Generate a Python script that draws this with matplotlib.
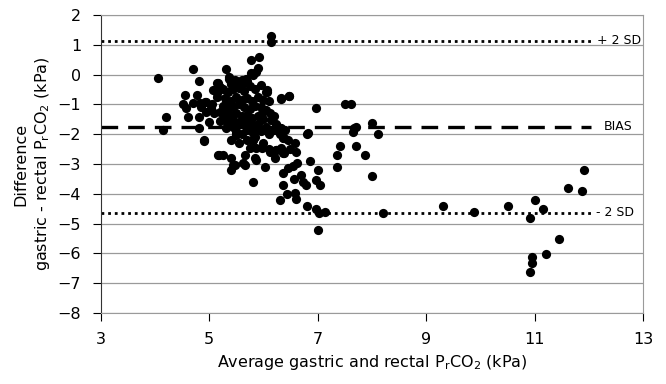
import matplotlib
matplotlib.use('Agg')
import matplotlib.pyplot as plt

# average of gastric and rectal PrCO2 (kPa) and their difference (kPa)
avg = [4.05, 4.71, 4.81, 5.31, 5.36, 4.55, 4.77, 4.52, 4.57, 4.71,
       4.83, 4.95, 5.04, 4.20, 4.15, 4.61, 4.81, 4.81, 4.91, 5.17,
       5.26, 5.41, 5.44, 5.41, 5.07, 5.17, 5.20, 5.29, 5.32, 5.50,
       6.15, 6.15, 5.78, 5.92, 5.86, 5.81, 5.66, 5.47, 6.07, 6.32,
       6.47, 6.97, 7.51, 7.61, 6.80, 7.68, 7.65, 7.41, 7.36, 7.71,
       7.36, 7.87, 6.36, 5.81, 5.97, 6.10, 6.24, 6.33, 6.21, 6.39,
       6.03, 5.87, 5.75, 5.66, 5.66, 5.47, 5.81, 6.36, 6.45, 6.55,
       6.63, 6.87, 6.69, 6.74, 6.79, 6.56, 6.97, 7.01, 7.05, 6.36,
       6.43, 6.31, 6.58, 6.61, 6.81, 6.97, 7.03, 7.13, 7.01, 8.01,
       8.11, 7.71, 8.01, 8.21, 9.31, 9.89, 10.51, 10.91, 11.01, 11.16,
       11.46, 11.21, 10.96, 10.96, 10.91, 11.61, 11.87, 11.91, 5.37, 5.41,
       5.15, 5.21, 5.14, 5.50, 5.60, 5.69, 5.78, 5.90, 4.92, 5.32,
       5.04, 5.29, 4.90, 5.63, 5.78, 5.81, 5.18, 5.63, 5.84, 5.87,
       6.06, 6.33, 6.47, 5.97, 6.15, 6.24, 6.33, 6.00, 5.84, 5.81,
       6.39, 6.58, 6.82, 6.12, 6.24, 6.36,
       5.25, 5.35, 5.45, 5.55, 5.65, 5.75, 5.85, 5.95,
       5.30, 5.40, 5.50, 5.60, 5.70, 5.80, 5.90, 6.00, 6.10,
       5.25, 5.35, 5.45, 5.55, 5.65, 5.75, 5.85, 5.95, 6.05,
       5.30, 5.40, 5.50, 5.60, 5.70, 5.80, 5.90, 6.00,
       5.35, 5.45, 5.55, 5.65, 5.75, 5.90, 6.05,
       5.50, 5.60, 5.70, 5.95, 6.10, 6.20,
       5.50, 5.60, 5.40, 5.70, 6.05, 5.15, 5.05, 5.10, 5.20, 5.40,
       5.55, 5.70, 5.85, 6.00, 6.30, 6.45, 6.50, 6.60,
       6.12, 6.20, 6.24, 6.30, 6.40, 5.44, 5.50, 4.85, 4.95, 5.00]
diff = [-0.12, 0.18, -0.21, 0.18, -0.07, -0.68, -0.68, -1.00, -1.13, -0.96,
        -0.94, -0.91, -1.13, -1.41, -1.86, -1.41, -1.41, -1.80, -2.19, -2.70,
        -2.70, -2.81, -3.03, -3.20, -0.52, -0.29, -1.25, -1.52, -1.80, -2.03,
        1.28, 1.08, 0.49, 0.60, 0.08, -0.01, -0.18, -0.18, -0.52, -0.82,
        -0.71, -1.11, -1.00, -1.00, -2.00, -1.80, -1.92, -2.40, -2.70, -2.40,
        -3.09, -2.70, -2.12, -2.19, -2.47, -2.51, -2.53, -2.47, -2.81, -2.64,
        -3.09, -2.87, -2.47, -2.70, -3.03, -3.03, -3.59, -3.31, -3.14, -3.07,
        -2.98, -2.89, -3.37, -3.59, -3.70, -3.51, -3.54, -3.20, -3.70, -3.70,
        -4.01, -4.21, -3.98, -4.18, -4.40, -4.52, -4.63, -4.62, -5.21, -1.61,
        -2.00, -1.77, -3.40, -4.63, -4.41, -4.62, -4.41, -4.82, -4.21, -4.52,
        -5.52, -6.02, -6.11, -6.33, -6.62, -3.82, -3.91, -3.20, -0.16, -0.29,
        -0.29, -0.43, -0.63, -0.41, -0.18, -0.16, 0.04, 0.21, -0.91, -0.91,
        -1.19, -1.47, -2.22, -1.52, -1.75, -1.97, -2.70, -2.98, -2.81, -2.47,
        -0.57, -0.80, -0.72, -1.30, -1.52, -1.69, -1.80, -1.86, -1.75, -2.19,
        -2.14, -2.31, -1.97, -2.59, -2.53, -2.64,
        -0.50, -0.60, -0.50, -0.45, -0.55, -0.40, -0.50, -0.35,
        -0.80, -0.90, -0.75, -0.85, -0.80, -0.90, -0.75, -0.85, -0.90,
        -1.05, -1.15, -1.10, -1.00, -1.10, -1.15, -1.05, -1.10, -1.20,
        -1.35, -1.40, -1.30, -1.40, -1.35, -1.45, -1.40, -1.50,
        -1.65, -1.75, -1.60, -1.70, -1.60, -1.65, -1.75,
        -1.90, -2.00, -1.85, -1.90, -2.00, -1.85,
        -0.20, -0.30, -0.30, -0.20, -0.60, -0.75, -1.00, -1.30, -1.55, -2.20,
        -2.30, -2.20, -2.10, -2.30, -2.00, -2.20, -2.50, -2.60,
        -1.30, -1.40, -1.65, -1.80, -1.85, -1.52, -1.97, -1.10, -1.25, -1.60]

bias = -1.75
upper = 1.13
lower = -4.63

fig = plt.figure(figsize=(6.66, 3.84), dpi=100)
ax = fig.add_axes([0.151, 0.185, 0.8145, 0.776])

# horizontal grid at every kPa
for yy in range(-8, 3):
    ax.axhline(yy, color='#9a9a9a', lw=0.9, zorder=1)

ax.hlines(upper, 3, 12.05, colors='black', linestyles=(0, (1, 1.4)), lw=2, zorder=2)
ax.hlines(lower, 3, 12.05, colors='black', linestyles=(0, (1, 1.4)), lw=2, zorder=2)
ax.hlines(bias, 3, 12.05, colors='black', linestyles=(0, (5, 3)), lw=2.4, zorder=2)

ax.scatter(avg, diff, s=44, color='black', zorder=3, linewidths=0)

ax.text(12.16, upper, '+ 2 SD', fontsize=9, va='center', ha='left')
ax.text(12.27, bias, 'BIAS', fontsize=9, va='center', ha='left')
ax.text(12.14, lower, '- 2 SD', fontsize=9, va='center', ha='left')

ax.set_xlim(3, 13)
ax.set_ylim(-8, 2)
ax.set_xticks([3, 5, 7, 9, 11, 13])
ax.set_yticks(range(-8, 3))
ax.tick_params(direction='out', length=6, width=0.8, labelsize=11.5, pad=8)

for s in ['top', 'right', 'bottom']:
    ax.spines[s].set_color('#9a9a9a')
ax.spines['left'].set_color('#333333')

ax.set_xlabel(r'Average gastric and rectal P$_\mathregular{r}$CO$_\mathregular{2}$ (kPa)', fontsize=11.5)
ax.set_ylabel('Difference\n' + r'gastric - rectal P$_\mathregular{r}$CO$_\mathregular{2}$ (kPa)',
              fontsize=11.5, linespacing=1.3)

plt.savefig('out.png', dpi=100)
